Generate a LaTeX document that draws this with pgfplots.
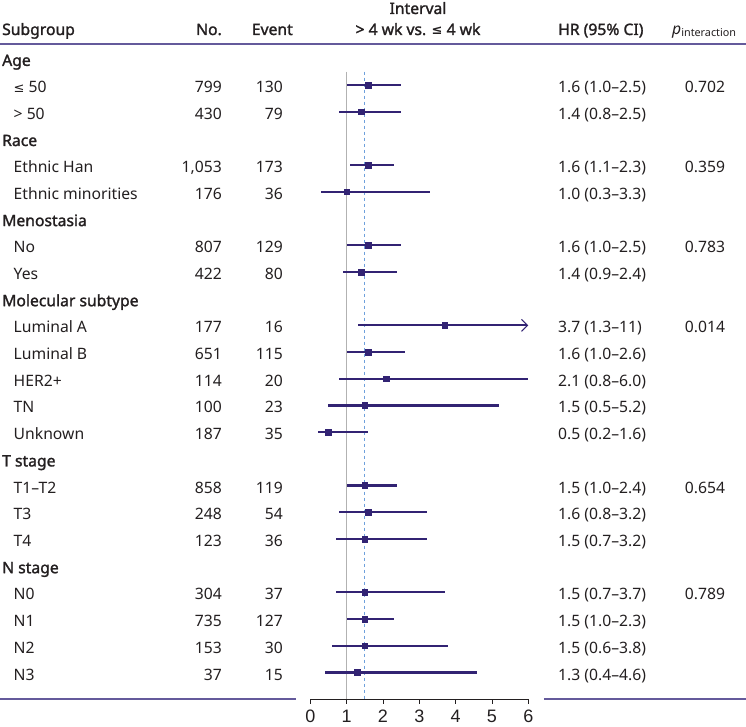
\documentclass[border=0pt]{standalone}
\usepackage{pgfplots}
\pgfplotsset{compat=1.18}
\usepackage{pgfplotstable}
\usepackage{fontspec}
\setmainfont{Noto Sans}[AutoFakeBold=1.6]
\newfontfamily\tickfont{Liberation Sans}
\newfontfamily\symfont{DejaVu Sans}
\newcommand{\lesym}{{\symfont\fontsize{13}{13}\selectfont ≤}}
\usetikzlibrary{arrows.meta}

\definecolor{navy}{RGB}{50,35,115}
\definecolor{rulec}{RGB}{100,90,155}
\definecolor{txt}{RGB}{35,31,32}
\definecolor{refdash}{RGB}{110,160,220}

% row = line of the table, counted from "Age" = 0
\pgfplotstableread{
row hr lo hi
1 1.6 1.0 2.5
2 1.4 0.8 2.5
4 1.6 1.1 2.3
5 1.0 0.3 3.3
7 1.6 1.0 2.5
8 1.4 0.9 2.4
10 3.7 1.3 5.5
11 1.6 1.0 2.6
12 2.1 0.8 6.0
13 1.5 0.5 5.2
14 0.5 0.2 1.6
16 1.5 1.0 2.4
17 1.6 0.8 3.2
18 1.5 0.7 3.2
20 1.5 0.7 3.7
21 1.5 1.0 2.3
22 1.5 0.6 3.8
23 1.3 0.4 4.6
}\hrdata

% text at pixel column #2, baseline pixel #3 (header lines)
\newcommand{\T}[4][base west]{\node[anchor=#1, inner sep=0pt, text=txt, xshift={(#2-310.3)*1pt}, yshift={(58.3-#3)*1pt}] at (axis cs:0,0) {#4};}
% text at pixel column #2 in table row #3
\newcommand{\R}[4][base west]{\node[anchor=#1, inner sep=0pt, text=txt, xshift={(#2-310.3)*1pt}, yshift=-7.6pt] at (axis cs:0,-#3) {#4};}
\newcommand{\row}[6]{\R{13.5}{#1}{#2}\R[base east]{222}{#1}{#3}\R[base east]{283}{#1}{#4}\R{558}{#1}{#5}\R[base]{705}{#1}{#6}}

\begin{document}
\fontsize{15.7}{18}\selectfont
\begin{tikzpicture}
\begin{axis}[
  x=36.33pt, y=26.7pt,
  xmin=0, xmax=6, ymin=-24, ymax=2.184,
  axis x line*=bottom, axis y line=none,
  clip=false,
  xtick={0,1,2,3,4,5,6},
  tick align=outside, major tick length=4.5pt,
  x axis line style={txt, line width=0.8pt},
  every tick/.style={txt, line width=0.8pt},
  /pgf/number format/assume math mode=true,
  xticklabel style={font=\tickfont\fontsize{18}{18}\selectfont, text=txt, anchor=north, inner sep=0pt, yshift=-6.5pt},
]
% reference lines
\addplot[gray!60, line width=0.9pt] coordinates {(1,-0.5) (1,-24)};
\addplot[refdash, line width=1.2pt, dash pattern=on 3.5pt off 2.5pt] coordinates {(1.5,-0.5) (1.5,-24)};

% rules
\addplot[rulec, line width=1.3pt] coordinates {(-8.541,0.536) (11.993,0.536)};
\addplot[rulec, line width=1.3pt] coordinates {(-8.541,-24) (-0.394,-24)};
\addplot[rulec, line width=1.3pt] coordinates {(6.432,-24) (11.993,-24)};

% confidence intervals and point estimates
\addplot[navy, only marks, mark=square*, mark size=2.9pt,
  error bars/.cd, x dir=both, x explicit, error mark=none,
  error bar style={line width=2.3pt, navy}]
  table[x=hr, y expr=-\thisrow{row},
        x error plus expr=\thisrow{hi}-\thisrow{hr},
        x error minus expr=\thisrow{hr}-\thisrow{lo}] {\hrdata};
% Luminal A upper limit beyond the axis
\addplot[navy, line width=2.3pt, -{Straight Barb[length=6pt, width=12pt, line width=1.1pt]}]
  coordinates {(5.0,-10) (6.0,-10)};

% header
\T{2}{35}{\bfseries Subgroup}
\T[base east]{222}{35}{\bfseries No.}
\T[base east]{293}{35}{\bfseries Event}
\T[base]{418}{14}{\bfseries Interval}
\T[base]{418}{35}{\bfseries > 4 wk vs. \lesym{} 4 wk}
\T{558}{35}{\bfseries HR (95\% CI)}
\T{672}{35}{{\bfseries\itshape p}\raisebox{-1.5pt}{\fontsize{10.8}{11}\selectfont interaction}}

% group labels
\R{2}{0}{\bfseries Age}
\R{2}{3}{\bfseries Race}
\R{2}{6}{\bfseries Menostasia}
\R{2}{9}{\bfseries Molecular subtype}
\R{2}{15}{\bfseries T stage}
\R{2}{19}{\bfseries N stage}

\row{1}{\lesym{} 50}{799}{130}{1.6 (1.0–2.5)}{0.702}
\row{2}{> 50}{430}{79}{1.4 (0.8–2.5)}{}
\row{4}{Ethnic Han}{1,053}{173}{1.6 (1.1–2.3)}{0.359}
\row{5}{Ethnic minorities}{176}{36}{1.0 (0.3–3.3)}{}
\row{7}{No}{807}{129}{1.6 (1.0–2.5)}{0.783}
\row{8}{Yes}{422}{80}{1.4 (0.9–2.4)}{}
\row{10}{Luminal A}{177}{16}{3.7 (1.3–11)}{0.014}
\row{11}{Luminal B}{651}{115}{1.6 (1.0–2.6)}{}
\row{12}{HER2+}{114}{20}{2.1 (0.8–6.0)}{}
\row{13}{TN}{100}{23}{1.5 (0.5–5.2)}{}
\row{14}{Unknown}{187}{35}{0.5 (0.2–1.6)}{}
\row{16}{T1–T2}{858}{119}{1.5 (1.0–2.4)}{0.654}
\row{17}{T3}{248}{54}{1.6 (0.8–3.2)}{}
\row{18}{T4}{123}{36}{1.5 (0.7–3.2)}{}
\row{20}{N0}{304}{37}{1.5 (0.7–3.7)}{0.789}
\row{21}{N1}{735}{127}{1.5 (1.0–2.3)}{}
\row{22}{N2}{153}{30}{1.5 (0.6–3.8)}{}
\row{23}{N3}{37}{15}{1.3 (0.4–4.6)}{}

\coordinate (o) at (axis cs:0,0);
\end{axis}
\pgfresetboundingbox
\useasboundingbox ([xshift=-310.3pt, yshift=58.3pt]o) rectangle ([xshift=435.7pt, yshift=-667.7pt]o);
\end{tikzpicture}
\end{document}
